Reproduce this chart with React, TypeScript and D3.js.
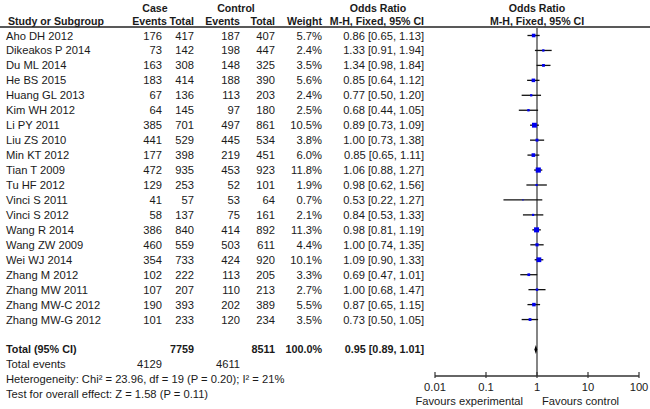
import { useEffect } from "react";
import * as d3 from "d3";

const studies = [
  "Aho DH 2012", "Dikeakos P 2014", "Du ML 2014", "He BS 2015", "Huang GL 2013",
  "Kim WH 2012", "Li PY 2011", "Liu ZS 2010", "Min KT 2012", "Tian T 2009",
  "Tu HF 2012", "Vinci S 2011", "Vinci S 2012", "Wang R 2014", "Wang ZW 2009",
  "Wei WJ 2014", "Zhang M 2012", "Zhang MW 2011", "Zhang MW-C 2012", "Zhang MW-G 2012",
];
const caseEvents = [176, 73, 163, 183, 67, 64, 385, 441, 177, 472, 129, 41, 58, 386, 460, 354, 102, 107, 190, 101];
const caseTotal = [417, 142, 308, 414, 136, 145, 701, 529, 398, 935, 253, 57, 137, 840, 559, 733, 222, 207, 393, 233];
const ctrlEvents = [187, 198, 148, 188, 113, 97, 497, 445, 219, 453, 52, 53, 75, 414, 503, 424, 113, 110, 202, 120];
const ctrlTotal = [407, 447, 325, 390, 203, 180, 861, 534, 451, 923, 101, 64, 161, 892, 611, 920, 205, 213, 389, 234];
const weights = [5.7, 2.4, 3.5, 5.6, 2.4, 2.5, 10.5, 3.8, 6.0, 11.8, 1.9, 0.7, 2.1, 11.3, 4.4, 10.1, 3.3, 2.7, 5.5, 3.5];
const oddsRatio = [0.86, 1.33, 1.34, 0.85, 0.77, 0.68, 0.89, 1.0, 0.85, 1.06, 0.98, 0.53, 0.84, 0.98, 1.0, 1.09, 0.69, 1.0, 0.87, 0.73];
const lower = [0.65, 0.91, 0.98, 0.64, 0.5, 0.44, 0.73, 0.73, 0.65, 0.88, 0.62, 0.22, 0.53, 0.81, 0.74, 0.9, 0.47, 0.68, 0.65, 0.5];
const upper = [1.13, 1.94, 1.84, 1.12, 1.2, 1.05, 1.09, 1.38, 1.11, 1.27, 1.56, 1.27, 1.33, 1.19, 1.35, 1.33, 1.01, 1.47, 1.15, 1.05];

const totalCase = 7759;
const totalCtrl = 8511;
const totalEventsCase = 4129;
const totalEventsCtrl = 4611;
const pooled = { or: 0.95, lo: 0.89, hi: 1.01 };
const axisTicks = [0.01, 0.1, 1, 10, 100];
const axisTickLabels = ["0.01", "0.1", "1", "10", "100"];

const W = 650;
const H = 409;
const FONT = "Arial, 'Liberation Sans', sans-serif";
const TXT = "#1a1a1a";

export default function App() {
  useEffect(() => {
    document.body.style.margin = "0";
  }, []);

  const x = d3.scaleLog().domain([0.01, 100]).range([435, 639]);
  const rowY = (i: number) => 35.5 + i * 14.95;
  const totalY = rowY(studies.length + 1);
  const axisY = 376;
  const size = (w: number) => 1.5 * Math.sqrt(w);
  const fmt = (v: number) => v.toFixed(2);
  const ciText = (o: number, l: number, u: number) => `${fmt(o)} [${fmt(l)}, ${fmt(u)}]`;

  const left = 6;
  const cols = { caseEv: 162, caseTot: 194, ctrlEv: 240, ctrlTot: 275, weight: 322, ci: 424 };

  return (
    <svg width={W} height={H} style={{ display: "block", background: "#fff" }} fontFamily={FONT} fontSize={11.2} fill={TXT}>
      {/* header */}
      <g fontWeight="bold" fontSize={10.6}>
        <text x={155} y={12} textAnchor="middle">Case</text>
        <text x={236} y={12} textAnchor="middle">Control</text>
        <text x={378} y={12} textAnchor="middle">Odds Ratio</text>
        <text x={537} y={12} textAnchor="middle">Odds Ratio</text>
        <text x={left + 2} y={25}>Study or Subgroup</text>
        <text x={167} y={25} textAnchor="end">Events</text>
        <text x={194} y={25} textAnchor="end">Total</text>
        <text x={240} y={25} textAnchor="end">Events</text>
        <text x={275} y={25} textAnchor="end">Total</text>
        <text x={322} y={25} textAnchor="end">Weight</text>
        <text x={424} y={25} textAnchor="end">M-H, Fixed, 95% CI</text>
        <text x={537} y={25} textAnchor="middle">M-H, Fixed, 95% CI</text>
      </g>
      <line x1={0} x2={W} y1={27} y2={27} stroke="#222" strokeWidth={1.3} />

      {/* study rows */}
      {studies.map((s, i) => {
        const y = rowY(i) + 4;
        return (
          <g key={s}>
            <text x={left} y={y}>{s}</text>
            <text x={cols.caseEv} y={y} textAnchor="end">{caseEvents[i]}</text>
            <text x={cols.caseTot} y={y} textAnchor="end">{caseTotal[i]}</text>
            <text x={cols.ctrlEv} y={y} textAnchor="end">{ctrlEvents[i]}</text>
            <text x={cols.ctrlTot} y={y} textAnchor="end">{ctrlTotal[i]}</text>
            <text x={cols.weight} y={y} textAnchor="end">{weights[i].toFixed(1)}%</text>
            <text x={cols.ci} y={y} textAnchor="end">{ciText(oddsRatio[i], lower[i], upper[i])}</text>
          </g>
        );
      })}

      {/* totals */}
      <g fontWeight="bold" fontSize={10.8}>
        <text x={left} y={totalY + 4}>Total (95% CI)</text>
        <text x={cols.caseTot} y={totalY + 4} textAnchor="end">{totalCase}</text>
        <text x={cols.ctrlTot} y={totalY + 4} textAnchor="end">{totalCtrl}</text>
        <text x={cols.weight} y={totalY + 4} textAnchor="end">100.0%</text>
        <text x={cols.ci} y={totalY + 4} textAnchor="end">{ciText(pooled.or, pooled.lo, pooled.hi)}</text>
      </g>
      <text x={left} y={rowY(studies.length + 2) + 4}>Total events</text>
      <text x={cols.caseEv} y={rowY(studies.length + 2) + 4} textAnchor="end">{totalEventsCase}</text>
      <text x={cols.ctrlEv} y={rowY(studies.length + 2) + 4} textAnchor="end">{totalEventsCtrl}</text>
      <text x={left} y={rowY(studies.length + 3) + 4}>Heterogeneity: Chi² = 23.96, df = 19 (P = 0.20); I² = 21%</text>
      <text x={left} y={rowY(studies.length + 4) + 4}>Test for overall effect: Z = 1.58 (P = 0.11)</text>

      {/* forest plot */}
      <line x1={x(1)} x2={x(1)} y1={27} y2={axisY} stroke="#666" strokeWidth={1.6} />
      {studies.map((s, i) => {
        const y = rowY(i);
        const sz = size(weights[i]);
        return (
          <g key={"f" + s}>
            <line x1={x(lower[i])} x2={x(upper[i])} y1={y} y2={y} stroke="#111" strokeWidth={1.3} />
            <rect x={x(oddsRatio[i]) - sz / 2} y={y - sz / 2} width={sz} height={sz} fill="#0000ee" />
          </g>
        );
      })}
      <path
        d={`M${x(pooled.lo)},${totalY} L${x(pooled.or)},${totalY - 4.5} L${x(pooled.hi)},${totalY} L${x(pooled.or)},${totalY + 4.5} Z`}
        fill="#000"
      />

      {/* axis */}
      <line x1={x(0.01)} x2={x(100)} y1={axisY} y2={axisY} stroke="#333" strokeWidth={1.3} />
      {axisTicks.map((t, i) => (
        <g key={"t" + t}>
          <line x1={x(t)} x2={x(t)} y1={axisY - 4} y2={axisY + 2} stroke="#333" strokeWidth={1.2} />
          <text x={x(t)} y={axisY + 15} textAnchor="middle">{axisTickLabels[i]}</text>
        </g>
      ))}
      <text x={x(1) - 14} y={axisY + 29} textAnchor="end">Favours experimental</text>
      <text x={x(1) + 5} y={axisY + 29}>Favours control</text>
    </svg>
  );
}
